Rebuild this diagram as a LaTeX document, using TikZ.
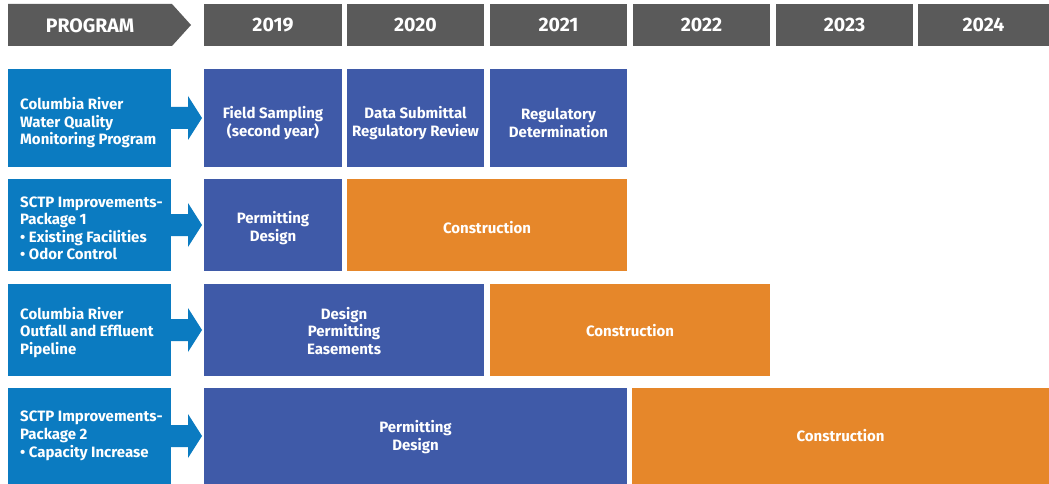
\documentclass[tikz,border=0pt]{standalone}
\usepackage{fontspec}
\setmainfont{Fira Sans}
\usetikzlibrary{calc}
\definecolor{hdrgray}{HTML}{5A5A5A}
\definecolor{progblue}{HTML}{0B7BC1}
\definecolor{taskblue}{HTML}{3F5AA8}
\definecolor{taskorange}{HTML}{E6872A}
\tikzset{
  every node/.style={font=\bfseries, text=white},
  hdrbox/.style={fill=hdrgray, anchor=north west, minimum height=42pt, inner sep=0pt, outer sep=0pt, font=\fontsize{19.5}{20}\selectfont\bfseries},
  progbox/.style={fill=progblue, anchor=north west, minimum width=163pt, inner sep=0pt, outer sep=0pt},
  progtext/.style={anchor=west, align=left, inner sep=0pt, font=\fontsize{15}{17.5}\selectfont\bfseries},
  taskbox/.style={fill=taskblue, anchor=north west, inner sep=0pt, outer sep=0pt},
  buildbox/.style={taskbox, fill=taskorange},
  tasktext/.style={align=center, inner sep=0pt, font=\fontsize{15}{17.5}\selectfont\bfseries},
  progarrow/.style={fill=progblue},
}
\begin{document}
\begin{tikzpicture}[x=1pt,y=-1pt]
\useasboundingbox (0,0) rectangle (1049,484);
\fill[white] (0,0) rectangle (1049,484);
% header
\fill[hdrgray] (8,4) -- (172,4) -- (191,25) -- (172,46) -- (8,46) -- cycle;
\node[font=\fontsize{19.5}{20}\selectfont\bfseries] (hprog) at (90,26) {PROGRAM};
\node[hdrbox, minimum width=138pt] (h2019) at (204,4) {2019};
\node[hdrbox, minimum width=137pt] (h2020) at (347,4) {2020};
\node[hdrbox, minimum width=137pt] (h2021) at (490,4) {2021};
\node[hdrbox, minimum width=137pt] (h2022) at (633,4) {2022};
\node[hdrbox, minimum width=137pt] (h2023) at (776,4) {2023};
\node[hdrbox, minimum width=131pt] (h2024) at (918,4) {2024};
% program boxes
\node[progbox, minimum height=98pt] (p1) at (8,69) {};
\node[progbox, minimum height=92pt] (p2) at (8,179) {};
\node[progbox, minimum height=92pt] (p3) at (8,284) {};
\node[progbox, minimum height=96pt] (p4) at (8,388) {};
\node[progtext] (t1) at ($(p1.west)+(12,5)$) {Columbia River\\Water Quality\\Monitoring Program};
\node[progtext] (t2) at ($(p2.west)+(12,3.5)$) {SCTP Improvements-\\Package 1\\\textbullet{} Existing Facilities\\\textbullet{} Odor Control};
\node[progtext] (t3) at ($(p3.west)+(12,2.5)$) {Columbia River\\Outfall and Effluent\\Pipeline};
\node[progtext, font=\fontsize{15}{18}\selectfont\bfseries] (t4) at ($(p4.west)+(12,0)$) {SCTP Improvements-\\Package 2\\\textbullet{} Capacity Increase};
% task boxes
\node[taskbox, minimum width=138pt, minimum height=98pt] (a1) at (204,69) {};
\node[taskbox, minimum width=137pt, minimum height=98pt] (a2) at (347,69) {};
\node[taskbox, minimum width=137pt, minimum height=98pt] (a3) at (490,69) {};
\node[taskbox, minimum width=138pt, minimum height=92pt] (b1) at (204,179) {};
\node[buildbox, minimum width=280pt, minimum height=92pt] (b2) at (347,179) {};
\node[taskbox, minimum width=280pt, minimum height=92pt] (c1) at (204,284) {};
\node[buildbox, minimum width=280pt, minimum height=92pt] (c2) at (490,284) {};
\node[taskbox, minimum width=423pt, minimum height=96pt] (d1) at (204,388) {};
\node[buildbox, minimum width=417pt, minimum height=96pt] (d2) at (632,388) {};
% task texts
\node[tasktext] (a1t) at ($(a1.center)+(0,5)$) {Field Sampling\\(second year)};
\node[tasktext] (a2t) at ($(a2.center)+(0,5)$) {Data Submittal\\Regulatory Review};
\node[tasktext] (a3t) at ($(a3.center)+(0,5)$) {Regulatory\\Determination};
\node[tasktext] (b1t) at ($(b1.center)+(0,3)$) {Permitting\\Design};
\node[tasktext] (b2t) at ($(b2.center)+(0,3)$) {Construction};
\node[tasktext] (c1t) at ($(c1.center)+(0,1)$) {Design\\Permitting\\Easements};
\node[tasktext] (c2t) at ($(c2.center)+(0,1)$) {Construction};
\node[tasktext] (d1t) at ($(d1.center)+(0,1)$) {Permitting\\Design};
\node[tasktext] (d2t) at ($(d2.center)+(0,0)$) {Construction};
% arrows
\foreach \p/\a in {p1/a1, p2/b1, p3/c1, p4/d1} {
  \fill[progarrow] ($(\p.east)+(0,-11)$) -- ($(\p.east)+(17,-11)$) -- ($(\p.east)+(17,-22)$)
    -- ($(\a.west)+(-2,0)$) -- ($(\p.east)+(17,22)$) -- ($(\p.east)+(17,11)$) -- ($(\p.east)+(0,11)$) -- cycle;
}
\end{tikzpicture}
\end{document}
